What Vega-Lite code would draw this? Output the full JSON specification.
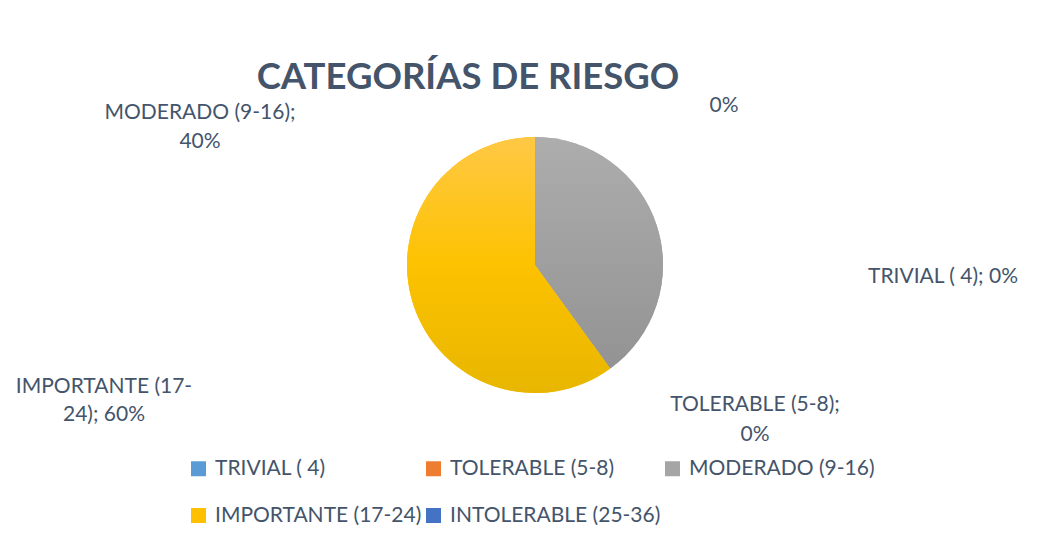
{
  "$schema": "https://vega.github.io/schema/vega-lite/v6.json",
  "width": 1042,
  "height": 530,
  "autosize": {"type": "none"},
  "padding": {"left": 14, "top": 0, "right": 0, "bottom": 12},
  "background": "white",
  "view": {"stroke": null},
  "title": {
    "text": "CATEGORÍAS DE RIESGO",
    "font": "Lato",
    "fontSize": 36.5,
    "fontWeight": "bold",
    "color": "#44546A",
    "anchor": "middle",
    "frame": "group",
    "orient": "top",
    "offset": -96,
    "dx": -67
  },
  "data": {
    "values": [
      {"categoria": "TRIVIAL ( 4)", "porcentaje": 0, "orden": 1, "etiqueta": "TRIVIAL ( 4); 0%"},
      {"categoria": "TOLERABLE (5-8)", "porcentaje": 0, "orden": 2, "etiqueta": "TOLERABLE (5-8);\n0%"},
      {"categoria": "MODERADO (9-16)", "porcentaje": 40, "orden": 3, "etiqueta": "MODERADO (9-16);\n40%"},
      {"categoria": "IMPORTANTE (17-24)", "porcentaje": 60, "orden": 4, "etiqueta": "IMPORTANTE (17-\n24); 60%"},
      {"categoria": "INTOLERABLE (25-36)", "porcentaje": 0, "orden": 5, "etiqueta": "0%"}
    ]
  },
  "transform": [
    {"stack": "porcentaje", "groupby": [], "sort": [{"field": "orden", "order": "ascending"}], "as": ["ini", "fin"]}
  ],
  "layer": [
    {
      "mark": {"type": "arc", "radius": 128},
      "encoding": {
        "theta": {"field": "ini", "type": "quantitative", "scale": {"domain": [0, 100]}},
        "theta2": {"field": "fin"},
        "color": {
          "field": "categoria",
          "type": "nominal",
          "sort": null,
          "scale": {
            "domain": ["TRIVIAL ( 4)", "TOLERABLE (5-8)", "MODERADO (9-16)", "IMPORTANTE (17-24)", "INTOLERABLE (25-36)"],
            "range": ["#5B9BD5", "#ED7D31", "#A5A5A5", "#FFC000", "#4472C4"]
          },
          "legend": {
            "orient": "none",
            "legendX": 174,
            "legendY": 458,
            "direction": "horizontal",
            "columns": 3,
            "title": null,
            "symbolType": "square",
            "symbolSize": 225,
            "symbolStrokeWidth": 0,
            "labelFont": "Lato",
            "labelFontSize": 21,
            "labelColor": "#44546A",
            "labelOffset": 6,
            "labelLimit": 400,
            "columnPadding": 1,
            "rowPadding": 25
          }
        }
      }
    },
    {
      "transform": [{"filter": "datum.categoria === 'MODERADO (9-16)'"}],
      "mark": {"type": "arc", "radius": 128, "color": {"gradient": "linear", "x1": 0, "y1": 0, "x2": 0, "y2": 1, "stops": [{"offset": 0, "color": "#ADADAD"}, {"offset": 1, "color": "#939393"}]}},
      "encoding": {
        "theta": {"field": "ini", "type": "quantitative"},
        "theta2": {"field": "fin"}
      }
    },
    {
      "transform": [{"filter": "datum.categoria === 'IMPORTANTE (17-24)'"}],
      "mark": {"type": "arc", "radius": 128, "color": {"gradient": "linear", "x1": 0, "y1": 0, "x2": 0, "y2": 1, "stops": [{"offset": 0, "color": "#FFC845"}, {"offset": 0.5, "color": "#FDC200"}, {"offset": 1, "color": "#E8B600"}]}},
      "encoding": {
        "theta": {"field": "ini", "type": "quantitative"},
        "theta2": {"field": "fin"}
      }
    },
    {
      "transform": [{"filter": "datum.categoria === 'MODERADO (9-16)'"}],
      "mark": {"type": "text", "font": "Lato", "fontSize": 21, "color": "#44546A", "lineBreak": "\n", "lineHeight": 29, "align": "center", "baseline": "middle", "dx": -335, "dy": -152},
      "encoding": {"text": {"field": "etiqueta"}}
    },
    {
      "transform": [{"filter": "datum.categoria === 'IMPORTANTE (17-24)'"}],
      "mark": {"type": "text", "font": "Lato", "fontSize": 21, "color": "#44546A", "lineBreak": "\n", "lineHeight": 28, "align": "center", "baseline": "middle", "dx": -431, "dy": 122},
      "encoding": {"text": {"field": "etiqueta"}}
    },
    {
      "transform": [{"filter": "datum.categoria === 'TRIVIAL ( 4)'"}],
      "mark": {"type": "text", "font": "Lato", "fontSize": 21, "color": "#44546A", "lineBreak": "\n", "lineHeight": 29, "align": "center", "baseline": "middle", "dx": 408, "dy": 12},
      "encoding": {"text": {"field": "etiqueta"}}
    },
    {
      "transform": [{"filter": "datum.categoria === 'TOLERABLE (5-8)'"}],
      "mark": {"type": "text", "font": "Lato", "fontSize": 21, "color": "#44546A", "lineBreak": "\n", "lineHeight": 30, "align": "center", "baseline": "middle", "dx": 220, "dy": 140},
      "encoding": {"text": {"field": "etiqueta"}}
    },
    {
      "transform": [{"filter": "datum.categoria === 'INTOLERABLE (25-36)'"}],
      "mark": {"type": "text", "font": "Lato", "fontSize": 21, "color": "#44546A", "lineBreak": "\n", "lineHeight": 29, "align": "center", "baseline": "middle", "dx": 189, "dy": -159},
      "encoding": {"text": {"field": "etiqueta"}}
    }
  ]
}
